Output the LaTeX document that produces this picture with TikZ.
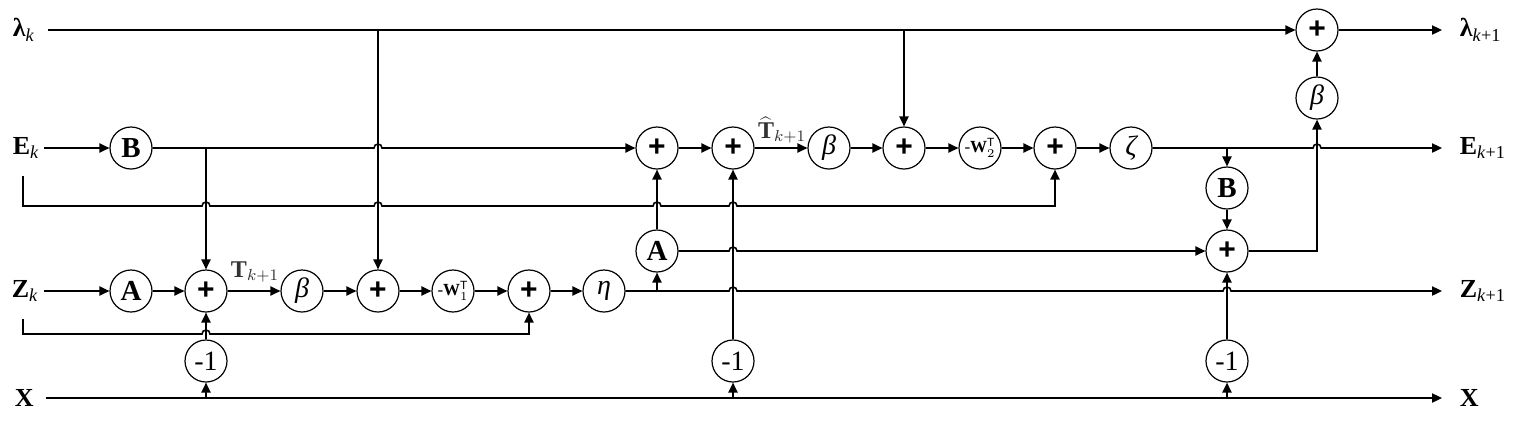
\documentclass[tikz,border=0pt]{standalone}
\usepackage{fontspec}
\setmainfont{Liberation Serif}
\setsansfont{Liberation Sans}
\usetikzlibrary{arrows.meta}
\begin{document}
\begin{tikzpicture}[x=0.5pt,y=-0.5pt,
  line width=0.8pt,
  >={Triangle[length=5pt,width=4.6pt]},
  blk/.style={circle,draw,line width=0.6pt,minimum size=21pt,inner sep=0pt,fill=white},
  sum/.style={blk,font=\sffamily\bfseries\fontsize{15}{15}\selectfont},
  mat/.style={blk,font=\bfseries\fontsize{14.5}{14.5}\selectfont},
  gr/.style={blk,font=\itshape\fontsize{14}{14}\selectfont},
  neg/.style={blk,font=\fontsize{14}{14}\selectfont},
  wt/.style={blk,font=\fontsize{8.5}{8.5}\selectfont},
  lab/.style={inner sep=0pt,anchor=west,font=\fontsize{13}{13}\selectfont},
  tlab/.style={inner sep=0pt,text=black!80,font=\fontsize{12}{12}\selectfont}
]
\useasboundingbox (0,0) rectangle (1514,430);

% labels
\node[lab] (lk) at (12,30) {\textbf{λ}\textsubscript{\textit{k}}};
\node[lab] (Ek) at (12,148) {\textbf{E}\textsubscript{\textit{k}}};
\node[lab] (Zk) at (11,291) {\textbf{Z}\textsubscript{\textit{k}}};
\node[lab] (Xl) at (14,398) {\textbf{X}};
\node[lab] (lk1) at (1459,30) {\textbf{λ}\textsubscript{\textit{k}+1}};
\node[lab] (Ek1) at (1459,148) {\textbf{E}\textsubscript{\textit{k}+1}};
\node[lab] (Zk1) at (1459,291) {\textbf{Z}\textsubscript{\textit{k}+1}};
\node[lab] (Xr) at (1459,398) {\textbf{X}};

% blocks
\node[mat] (B1) at (131,148) {B};
\node[mat] (A1) at (131,291) {A};
\node[sum] (P1) at (206,291) {+};
\node[gr]  (Be1) at (302,291) {β};
\node[sum] (P2) at (378,291) {+};
\node[wt]  (W1) at (453,291) {-\textbf{W}$_{1}^{\mathsf{T}}$};
\node[sum] (P3) at (529,291) {+};
\node[gr]  (Eta) at (604,291) {η};
\node[neg] (M1) at (206,361) {-1};
\node[neg] (M2) at (733,361) {-1};
\node[neg] (M3) at (1227,361) {-1};
\node[sum] (Pa) at (657,148) {+};
\node[sum] (Pb) at (733,148) {+};
\node[gr]  (Be2) at (829,148) {β};
\node[sum] (Pc) at (904,148) {+};
\node[wt]  (W2) at (980,148) {-\textbf{W}$_{2}^{\mathsf{T}}$};
\node[sum] (Pd) at (1055,148) {+};
\node[gr]  (Zeta) at (1131,148) {ζ};
\node[mat] (A2) at (657,251) {A};
\node[mat] (B2) at (1227,188) {B};
\node[sum] (Pe) at (1227,251) {+};
\node[gr]  (Be3) at (1317,98) {β};
\node[sum] (Pt) at (1317,30) {+};

\node[tlab] (T1) at (255,272) {$\mathbf{T}_{k+1}$};
\node[tlab] (T2) at (782,130) {$\widehat{\mathbf{T}}_{k+1}$};

% coordinates
\coordinate (ls) at (48,30);
\coordinate (ld1) at (378,30);
\coordinate (ld2) at (904,30);
\coordinate (lo) at (1442,30);
\coordinate (es) at (44,148);
\coordinate (ej) at (206,148);
\coordinate (ej2) at (1227,148);
\coordinate (eo) at (1442,148);
\coordinate (eb0) at (23,176);
\coordinate (eb1) at (23,206);
\coordinate (eb2) at (1055,206);
\coordinate (zs) at (44,291);
\coordinate (zj) at (657,291);
\coordinate (zo) at (1442,291);
\coordinate (zb0) at (23,319);
\coordinate (zb1) at (23,334);
\coordinate (zb2) at (529,334);
\coordinate (xs) at (46,398);
\coordinate (xo) at (1442,398);
\coordinate (x1) at (206,398);
\coordinate (x2) at (733,398);
\coordinate (x3) at (1227,398);
\coordinate (pc) at (1317,251);

% lambda row
\draw[->] (ls) -- (Pt.west);
\draw[->] (ld1) -- (P2.north);
\draw[->] (ld2) -- (Pc.north);
\draw[->] (Pt.east) -- (lo);

% E row
\draw[->] (es) -- (B1.west);
\draw[->] (B1.east) -- (374,148) arc[start angle=180,end angle=0,radius=2pt] -- (Pa.west);
\draw[->] (ej) -- (P1.north);
\draw[->] (eb0) -- (eb1) -- (202,206) arc[start angle=180,end angle=0,radius=2pt]
  -- (374,206) arc[start angle=180,end angle=0,radius=2pt]
  -- (653,206) arc[start angle=180,end angle=0,radius=2pt]
  -- (729,206) arc[start angle=180,end angle=0,radius=2pt]
  -- (eb2) -- (Pd.south);
\draw[->] (Pa) -- (Pb);
\draw[->] (Pb) -- (Be2);
\draw[->] (Be2) -- (Pc);
\draw[->] (Pc) -- (W2);
\draw[->] (W2) -- (Pd);
\draw[->] (Pd) -- (Zeta);
\draw[->] (Zeta.east) -- (1313,148) arc[start angle=180,end angle=0,radius=2pt] -- (eo);
\draw[->] (ej2) -- (B2.north);
\draw[->] (B2) -- (Pe);
\draw[->] (Pe.east) -- (pc) -- (Be3.south);
\draw[->] (Be3) -- (Pt);

% Z row
\draw[->] (zs) -- (A1.west);
\draw[->] (A1) -- (P1);
\draw[->] (P1) -- (Be1);
\draw[->] (Be1) -- (P2);
\draw[->] (P2) -- (W1);
\draw[->] (W1) -- (P3);
\draw[->] (P3) -- (Eta);
\draw[->] (zb0) -- (zb1) -- (202,334) arc[start angle=180,end angle=0,radius=2pt] -- (zb2) -- (P3.south);
\draw[->] (Eta.east) -- (729,291) arc[start angle=180,end angle=0,radius=2pt]
  -- (1223,291) arc[start angle=180,end angle=0,radius=2pt] -- (zo);
\draw[->] (zj) -- (A2.south);
\draw[->] (A2) -- (Pa);
\draw[->] (A2.east) -- (729,251) arc[start angle=180,end angle=0,radius=2pt] -- (Pe.west);

% X row
\draw[->] (xs) -- (xo);
\draw[->] (x1) -- (M1.south);
\draw[->] (x2) -- (M2.south);
\draw[->] (x3) -- (M3.south);
\draw[->] (M1) -- (P1);
\draw[->] (M2) -- (Pb);
\draw[->] (M3) -- (Pe);
\end{tikzpicture}
\end{document}
